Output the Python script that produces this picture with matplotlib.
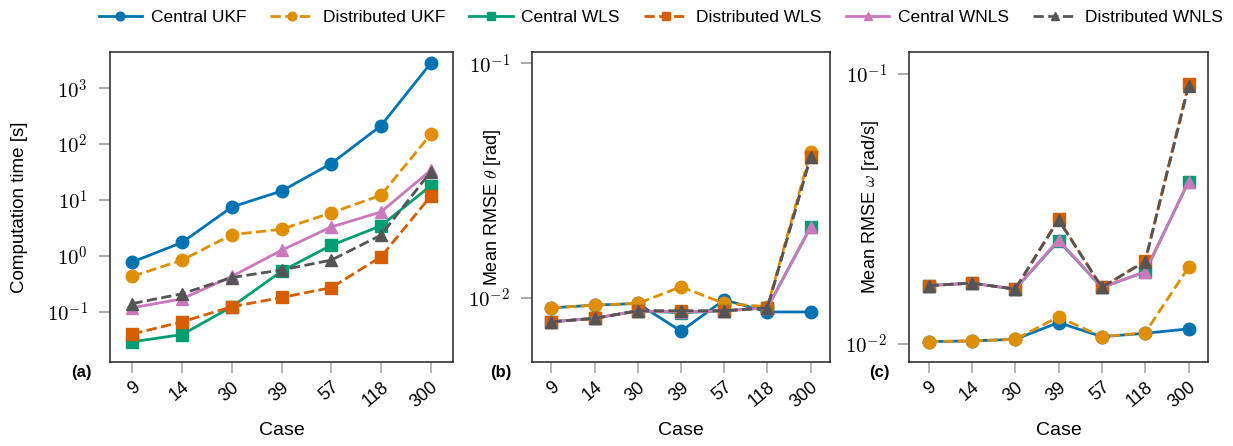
import matplotlib
matplotlib.use("Agg")
import matplotlib.pyplot as plt
import numpy as np
from matplotlib.ticker import LogLocator, NullLocator, FuncFormatter

plt.rcParams['font.family'] = ['Liberation Sans', 'DejaVu Sans']
plt.rcParams['mathtext.fontset'] = 'cm'

cases = ["9", "14", "30", "39", "57", "118", "300"]
series = ["Central UKF", "Distributed UKF", "Central WLS",
          "Distributed WLS", "Central WNLS", "Distributed WNLS"]

# (a) computation time [s]
time_c_ukf = [0.78, 1.74, 7.5, 14.5, 45, 214, 2800]
time_d_ukf = [0.43, 0.84, 2.4, 3.0, 5.9, 12.2, 150]
time_c_wls = [0.029, 0.039, 0.123, 0.53, 1.55, 3.45, 18]
time_d_wls = [0.040, 0.066, 0.123, 0.18, 0.27, 0.96, 11.7]
time_c_wnls = [0.118, 0.17, 0.43, 1.26, 3.3, 6.1, 34]
time_d_wnls = [0.14, 0.21, 0.41, 0.56, 0.84, 2.35, 32]

# (b) mean RMSE theta [rad]
theta_c_ukf = [0.00906, 0.0093, 0.00946, 0.0072, 0.0098, 0.0087, 0.0087]
theta_d_ukf = [0.00906, 0.0093, 0.00946, 0.01114, 0.00946, 0.00916, 0.0418]
theta_c_wls = [0.0079, 0.00817, 0.0088, 0.00863, 0.0088, 0.00906, 0.020]
theta_d_wls = [0.0079, 0.00817, 0.0088, 0.00875, 0.0088, 0.00906, 0.040]
theta_c_wnls = [0.0079, 0.00817, 0.0088, 0.0087, 0.0088, 0.00906, 0.020]
theta_d_wnls = [0.0079, 0.00817, 0.0088, 0.0088, 0.0088, 0.00906, 0.0398]

# (c) mean RMSE omega [rad/s]
omega_c_ukf = [0.0102, 0.01026, 0.0104, 0.012, 0.01064, 0.01095, 0.01137]
omega_d_ukf = [0.0102, 0.01026, 0.0104, 0.0126, 0.01064, 0.011, 0.0192]
omega_c_wls = [0.01645, 0.0168, 0.01596, 0.0241, 0.0162, 0.0185, 0.0399]
omega_d_wls = [0.01645, 0.0168, 0.01596, 0.029, 0.0162, 0.0203, 0.0916]
omega_c_wnls = [0.01645, 0.0168, 0.01596, 0.0243, 0.0162, 0.0185, 0.0399]
omega_d_wnls = [0.01645, 0.0168, 0.01596, 0.0288, 0.0162, 0.0202, 0.090]

colors = ["#0173b2", "#de8f05", "#029e73", "#d55e00", "#cc78bc", "#555555"]
markers = ["o", "o", "s", "s", "^", "^"]
styles = ["-", "--", "-", "--", "-", "--"]

panels = [
    ([time_c_ukf, time_d_ukf, time_c_wls, time_d_wls, time_c_wnls, time_d_wnls],
     "Computation time [s]", (10**-1.9, 10**3.65), "(a)", 13.5),
    ([theta_c_ukf, theta_d_ukf, theta_c_wls, theta_d_wls, theta_c_wnls, theta_d_wnls],
     r"Mean RMSE $\theta$ [rad]", (10**-2.274, 10**-0.952), "(b)", 13),
    ([omega_c_ukf, omega_d_ukf, omega_c_wls, omega_d_wls, omega_c_wnls, omega_d_wnls],
     r"Mean RMSE $\omega$ [rad/s]", (10**-2.067, 10**-0.9185), "(c)", 13),
]

fig = plt.figure(figsize=(12.33, 4.46), dpi=100)
rects = [[110/1233, 0.1883, 343/1233, 0.695],
         [532/1233, 0.1883, 298/1233, 0.695],
         [909/1233, 0.1883, 299/1233, 0.695]]
label_x = [81/1233, 501/1233, 879/1233]
ylabel_x = [-0.239, -0.097, -0.094]

def pow10(v, pos):
    return r"$10^{%d}$" % int(round(np.log10(v)))

x = list(range(len(cases)))
for i, (data, ylabel, ylim, tag, lsize) in enumerate(panels):
    ax = fig.add_axes(rects[i])
    for vals, name, c, m, ls in zip(data, series, colors, markers, styles):
        ax.plot(x, vals, ls, color=c, marker=m, markersize=9, lw=2, label=name)
    ax.set_yscale("log")
    ax.set_ylim(*ylim)
    ax.yaxis.set_major_locator(LogLocator(base=10, numticks=10))
    ax.yaxis.set_major_formatter(FuncFormatter(pow10))
    ax.yaxis.set_minor_locator(NullLocator())
    ax.set_xlim(-0.45, 6.45)
    ax.set_xticks(x)
    ax.set_xticklabels(cases, rotation=40, ha="right", rotation_mode="anchor", fontsize=13)
    ax.tick_params(axis="y", labelsize=15, color="#999999", length=8, width=1.2, pad=8)
    ax.tick_params(axis="x", color="#aaaaaa", length=8, width=1.2, pad=4)
    ax.set_ylabel(ylabel, fontsize=lsize)
    ax.yaxis.set_label_coords(ylabel_x[i], 0.5)
    ax.set_xlabel("Case", fontsize=14, labelpad=8)
    for sp in ax.spines.values():
        sp.set_color("#333333")
        sp.set_linewidth(1.2)
    fig.text(label_x[i], 1 - 373/446, tag, fontsize=12, fontweight="bold",
             ha="center", va="center")
    if i == 0:
        handles, labels = ax.get_legend_handles_labels()

fig.legend(handles, labels, loc="upper center", ncol=6, frameon=False,
           bbox_to_anchor=(0.536, 1.013), fontsize=12.5, handlelength=2.5,
           markerscale=0.7, columnspacing=1.4, handletextpad=0.5)

fig.savefig("out.png", dpi=100)
